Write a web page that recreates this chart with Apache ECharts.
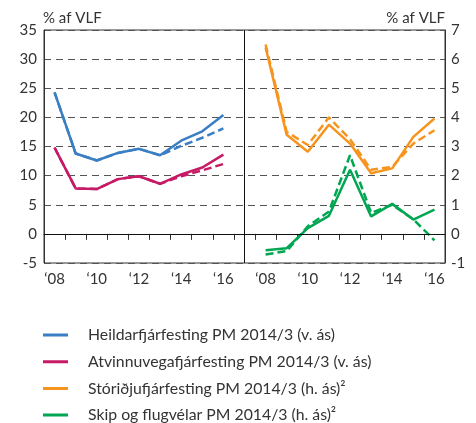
<!DOCTYPE html>
<html>
<head>
<meta charset="utf-8">
<script src="https://cdn.jsdelivr.net/npm/echarts@6/dist/echarts.min.js"></script>
<style>
  html, body { margin: 0; padding: 0; background: #fff; }
  #chart { width: 476px; height: 423px; }
</style>
</head>
<body>
<div id="chart"></div>
<script>
// years on each panel, labels only on even ones
const years = ['08', '09', '10', '11', '12', '13', '14', '15', '16'];
const labelYears = ['08', '10', '12', '14', '16'];

// left axis (% af VLF)
const heildSolid = [24.3, 13.8, 12.6, 13.9, 14.6, 13.5, 16.0, 17.6, 20.4];
const heildDashed = [24.3, 13.8, 12.6, 13.9, 14.6, 13.5, 15.1, 16.5, 18.1];
const atvSolid = [14.8, 7.8, 7.7, 9.4, 9.9, 8.6, 10.2, 11.4, 13.6];
const atvDashed = [14.8, 7.8, 7.7, 9.4, 9.9, 8.6, 9.9, 10.9, 12.0];

// right axis (% af VLF)
const storSolid = [6.4, 3.4, 2.82, 3.75, 3.1, 2.08, 2.25, 3.33, 3.96];
const storDashed = [6.5, 3.5, 3.05, 4.0, 3.25, 2.2, 2.3, 3.1, 3.56];
const skipSolid = [-0.56, -0.49, 0.2, 0.62, 2.2, 0.6, 1.03, 0.49, 0.83];
const skipDashed = [-0.71, -0.59, 0.26, 0.77, 2.7, 0.72, 1.0, 0.5, -0.22];

const names = [
  'Heildarfjárfesting PM 2014/3 (v. ás)',
  'Atvinnuvegafjárfesting PM 2014/3 (v. ás)',
  'Stóriðjufjárfesting PM 2014/3 (h. ás)²',
  'Skip og flugvélar PM 2014/3 (h. ás)²'
];
const colors = ['#3a7fc4', '#c71a66', '#f7941d', '#00a651'];

// one category axis: left panel, a gap slot, right panel
const cats = years.map(y => 'v' + y).concat(['gap']).concat(years.map(y => 'h' + y));
const blank = new Array(10).fill('-');
const leftData = arr => arr.concat(blank);
const rightData = arr => blank.concat(arr);

const font = 'Lato';
const txt = '#333';

function lineSeries(name, data, color, yIdx, dashed) {
  return {
    name: name,
    type: 'line',
    yAxisIndex: yIdx,
    data: data,
    symbol: 'none',
    connectNulls: false,
    z: dashed ? 2 : 3,
    lineStyle: { color: color, width: 2.5, type: dashed ? [8, 4] : 'solid' },
    itemStyle: { color: color }
  };
}

const chart = echarts.init(document.getElementById('chart'));

const series = [
  lineSeries('d0', leftData(heildDashed), colors[0], 0, true),
  lineSeries('d1', leftData(atvDashed), colors[1], 0, true),
  lineSeries('d2', rightData(storDashed), colors[2], 1, true),
  lineSeries('d3', rightData(skipDashed), colors[3], 1, true),
  lineSeries(names[0], leftData(heildSolid), colors[0], 0, false),
  lineSeries(names[1], leftData(atvSolid), colors[1], 0, false),
  lineSeries(names[2], rightData(storSolid), colors[2], 1, false),
  lineSeries(names[3], rightData(skipSolid), colors[3], 1, false)
];

// zero line and panel divider
series[0].markLine = {
  silent: true,
  symbol: ['none', 'none'],
  label: { show: false },
  lineStyle: { color: '#111', width: 1, type: 'solid' },
  data: [{ yAxis: 0 }, { xAxis: 'gap' }]
};

const legendIcon = 'path://M0,0H25V3H0Z M39.9,0H40V0.01H39.9Z';

chart.setOption({
  animation: false,
  textStyle: { fontFamily: font },
  grid: {
    left: 44, right: 31, top: 30, bottom: 160,
    show: true, borderColor: '#333', borderWidth: 1
  },
  legend: {
    orient: 'vertical',
    left: 43,
    top: 327,
    height: 120,
    padding: 0,
    itemWidth: 40,
    itemHeight: 3,
    itemGap: 10.7,
    textStyle: { fontFamily: font, fontSize: 15.8, color: txt },
    data: names.map((n, i) => ({ name: n, icon: legendIcon, itemStyle: { color: colors[i] } }))
  },
  xAxis: {
    type: 'category',
    data: cats,
    boundaryGap: true,
    axisLine: { lineStyle: { color: '#333', width: 1 } },
    axisTick: { show: true, interval: 0, length: 6, lineStyle: { color: '#333' } },
    axisLabel: {
      interval: (i, v) => v !== 'gap' && labelYears.includes(v.slice(1)),
      formatter: v => '\u2018' + v.slice(1),
      color: txt, fontSize: 15, fontFamily: font, margin: 9
    },
    splitLine: { show: false }
  },
  yAxis: [
    {
      type: 'value', position: 'left', min: -5, max: 35, interval: 5,
      name: '% af VLF', nameLocation: 'end', nameGap: 4,
      nameTextStyle: { align: 'left', color: txt, fontSize: 15, fontFamily: font, padding: [0, 0, 0, -1] },
      axisLine: { show: true, lineStyle: { color: '#333' } },
      axisTick: { show: false },
      axisLabel: { color: txt, fontSize: 15, fontFamily: font, margin: 7 },
      splitLine: { show: true, lineStyle: { color: '#555', width: 1, type: [7, 5] } }
    },
    {
      type: 'value', position: 'right', min: -1, max: 7, interval: 1,
      name: '% af VLF', nameLocation: 'end', nameGap: 4,
      nameTextStyle: { align: 'right', color: txt, fontSize: 15, fontFamily: font },
      axisLine: { show: true, lineStyle: { color: '#333' } },
      axisTick: { show: false },
      axisLabel: { color: txt, fontSize: 15, fontFamily: font, margin: 6 },
      splitLine: { show: false }
    }
  ],
  series: series
});
</script>
</body>
</html>
